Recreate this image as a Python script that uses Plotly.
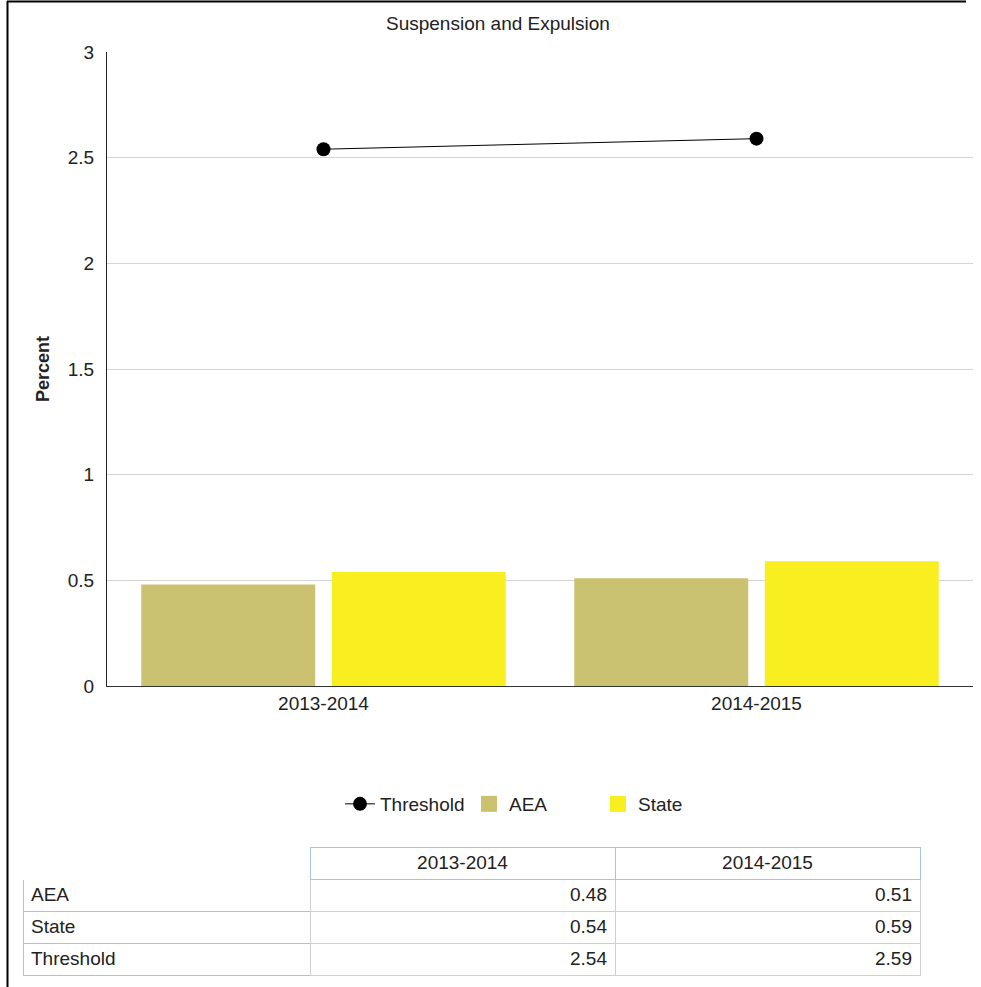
import plotly.graph_objects as go

W, H = 981, 987
categories = ["2013-2014", "2014-2015"]
aea = [0.48, 0.51]
state = [0.54, 0.59]
threshold = [2.54, 2.59]
row_labels = ["AEA", "State", "Threshold"]

FONT = "Arial, 'Liberation Sans', sans-serif"
FS = 19
AEA_COLOR = "#cbc271"
STATE_COLOR = "#f9ee1f"

def px(x):
    return x / W

def py(y):
    return 1 - y / H

fig = go.Figure()
fig.add_trace(go.Scatter(x=categories, y=threshold, name="Threshold", mode="lines+markers",
                         line=dict(color="black", width=1), marker=dict(color="black", size=14)))
fig.add_trace(go.Bar(x=categories, y=aea, name="AEA", showlegend=False,
                     marker=dict(color=AEA_COLOR, line=dict(width=0))))
fig.add_trace(go.Bar(x=categories, y=state, name="State", showlegend=False,
                     marker=dict(color=STATE_COLOR, line=dict(width=0))))
# legend-only entries with larger square swatches
fig.add_trace(go.Scatter(x=[None], y=[None], name="AEA", mode="markers",
                         marker=dict(symbol="square", size=17, color=AEA_COLOR)))
fig.add_trace(go.Scatter(x=[None], y=[None], name="State", mode="markers",
                         marker=dict(symbol="square", size=17, color=STATE_COLOR)))

fmt = lambda v: f"{v:.2f}"
fig.add_trace(go.Table(
    domain=dict(x=[px(23), px(920)], y=[py(978), py(847)]),
    columnwidth=[287, 305, 305],
    header=dict(values=[""] + categories, height=32,
                fill_color="white",
                line=dict(color=["white", "#a9c2de", "#a9c2de"], width=1),
                align="center", font=dict(family=FONT, size=FS, color="#222")),
    cells=dict(values=[row_labels,
                       [fmt(v) for v in [aea[0], state[0], threshold[0]]],
                       [fmt(v) for v in [aea[1], state[1], threshold[1]]]],
               height=32, fill_color="white",
               line=dict(color=["#a9c2de", "#cfcfcf", "#cfcfcf"], width=1),
               align=["left", "right", "right"], font=dict(family=FONT, size=FS, color="#222")),
))

fig.update_layout(
    width=W, height=H,
    margin=dict(l=0, r=0, t=0, b=0),
    paper_bgcolor="white", plot_bgcolor="white",
    font=dict(family=FONT, size=FS, color="#222"),
    barmode="group", bargap=0.12, bargroupgap=0.087,
    showlegend=True,
    legend=dict(orientation="h", x=px(340), xanchor="left", y=py(785), yanchor="top",
                font=dict(family=FONT, size=FS, color="#222"), traceorder="normal",
                entrywidth=84, entrywidthmode="pixels", itemclick=False, itemdoubleclick=False),
    xaxis=dict(domain=[px(107), px(973)], anchor="y", showgrid=False,
               showline=True, linecolor="#333", linewidth=1, ticks="",
               tickfont=dict(size=FS), automargin=False),
    yaxis=dict(domain=[py(686), py(52)], anchor="x", range=[0, 3], dtick=0.5,
               showgrid=True, gridcolor="#d4d4d4", gridwidth=1,
               showline=True, linecolor="#222", linewidth=1, ticks="",
               zeroline=False, tickfont=dict(size=FS), automargin=False,
               ticklabelstandoff=8,
               title=dict(text="<b>Percent</b>", font=dict(size=18), standoff=13)),
    annotations=[dict(text="Suspension and Expulsion", x=px(498), y=py(23), xref="paper", yref="paper",
                      xanchor="center", yanchor="middle", showarrow=False, font=dict(size=FS, color="#222"))],
    shapes=[
        dict(type="line", xref="paper", yref="paper", x0=px(7.5), x1=px(7.5), y0=py(1), y1=0, line=dict(color="black", width=2)),
        dict(type="line", xref="paper", yref="paper", x0=px(7), x1=px(966), y0=py(1.5), y1=py(1.5), line=dict(color="black", width=2)),
    ],
)

fig.write_html("out.html", config={"displayModeBar": False},
               post_script="document.body.style.margin='0';")
